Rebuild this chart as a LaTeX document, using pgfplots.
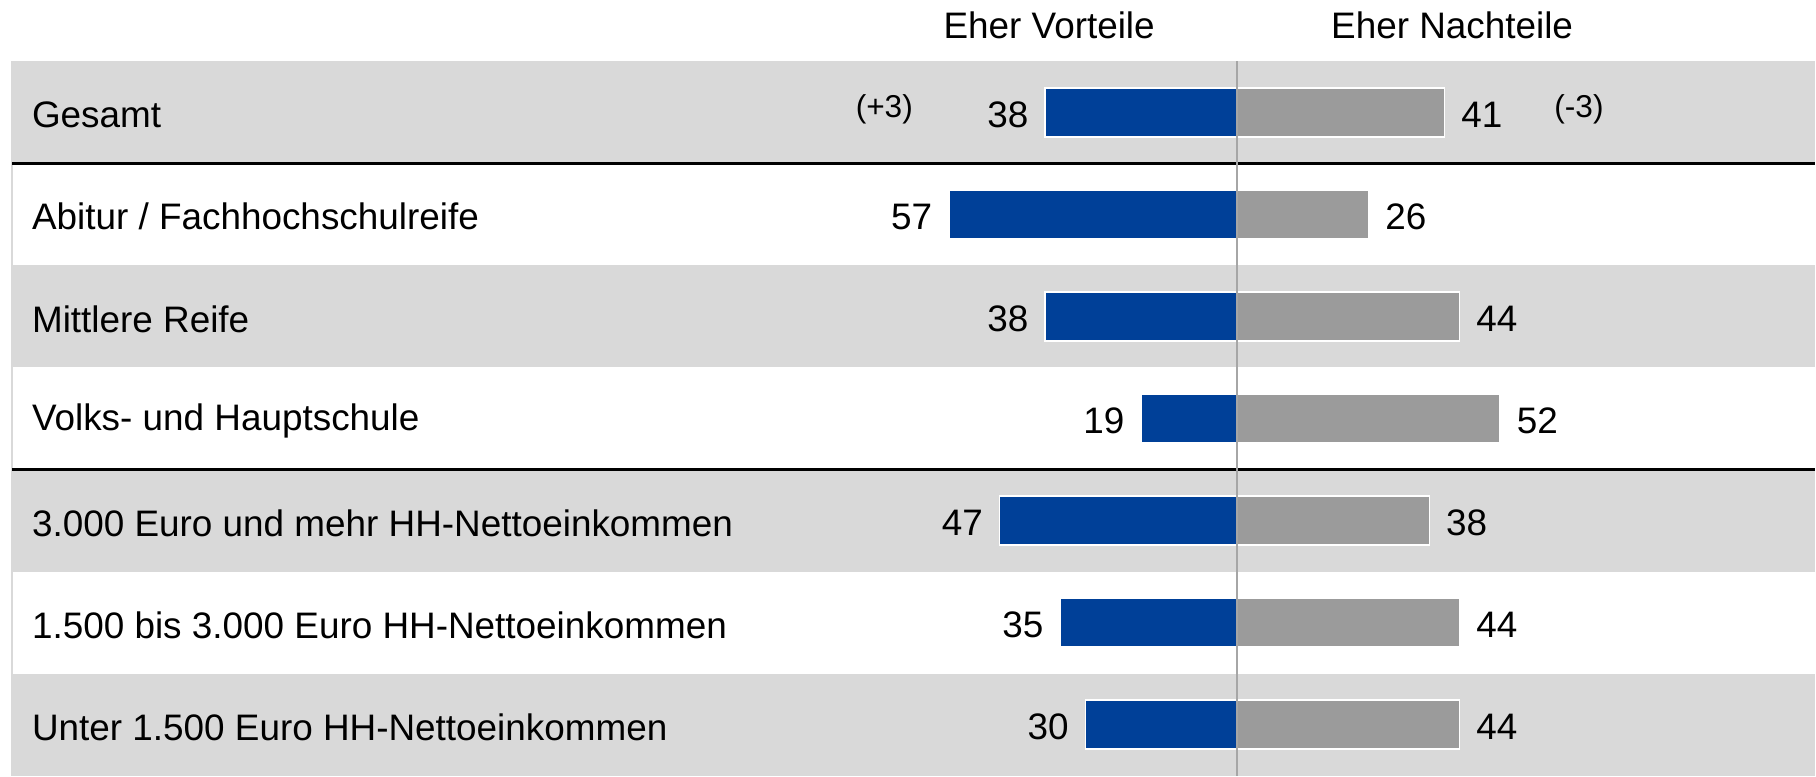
\documentclass[border=0pt]{standalone}
\usepackage{pgfplots}
\pgfplotsset{compat=1.18}
\usepackage{pgfplotstable}
\usepackage{fontspec}
\setmainfont{Liberation Sans}
\definecolor{barblue}{RGB}{0,64,152}
\definecolor{bargray}{RGB}{155,155,155}
\definecolor{band}{RGB}{217,217,217}
\definecolor{midline}{RGB}{166,166,166}

\pgfplotstableread{
y pro contra
0 38 41
1 57 26
2 38 44
3 19 52
4 47 38
5 35 44
6 30 44
}\data

\begin{document}
\begin{tikzpicture}
\begin{axis}[
 width=181.6mm, height=77.6mm, scale only axis,
 xmin=-244.7, xmax=114.2, ymin=-1.097, ymax=6.5, y dir=reverse,
 hide axis, clip=false,
 xbar, bar shift=0pt, bar width=0.48,
 /pgf/number format/assume math mode=true,
 font=\fontsize{10.5}{12.6}\selectfont,
]
\path (rel axis cs:0,0) rectangle (rel axis cs:1,1);
% row bands
\fill[band] (axis cs:-242.3,-0.5) rectangle (axis cs:114.2,0.5);
\fill[band] (axis cs:-242.3,1.5) rectangle (axis cs:114.2,2.5);
\fill[band] (axis cs:-242.3,3.5) rectangle (axis cs:114.2,4.5);
\fill[band] (axis cs:-242.3,5.5) rectangle (axis cs:114.2,6.5);
\draw[band, line width=0.4pt] (axis cs:-242.3,-0.5) -- (axis cs:-242.3,6.5);

\addplot[fill=barblue, draw=white, line width=0.45pt,
  point meta=\thisrow{pro},
  nodes near coords,
  nodes near coords style={anchor=east, inner sep=0pt, xshift=-1.6mm, yshift=-0.25mm, text=black, font=\fontsize{10.5}{12.6}\selectfont}]
  table[x expr=-\thisrow{pro}, y=y] {\data};
\addplot[fill=bargray, draw=white, line width=0.45pt,
  point meta=\thisrow{contra},
  nodes near coords,
  nodes near coords style={anchor=west, inner sep=0pt, xshift=1.6mm, yshift=-0.25mm, text=black, font=\fontsize{10.5}{12.6}\selectfont}]
  table[x=contra, y=y] {\data};

% separators
\draw[black, line width=0.8pt] (axis cs:-242.3,0.5) -- (axis cs:114.2,0.5);
\draw[black, line width=0.8pt] (axis cs:-242.3,3.5) -- (axis cs:114.2,3.5);
% center line
\draw[midline, line width=0.5pt] (axis cs:0,-0.5) -- (axis cs:0,6.5);

% headers
\node[font=\fontsize{10.5}{12.6}\selectfont] at (axis cs:-37.2,-0.852) {Eher Vorteile};
\node[font=\fontsize{10.5}{12.6}\selectfont] at (axis cs:42.5,-0.852) {Eher Nachteile};
% changes
\node[font=\fontsize{9}{10.8}\selectfont] at (axis cs:-69.8,-0.03) {(+3)};
\node[font=\fontsize{9}{10.8}\selectfont] at (axis cs:67.6,-0.03) {(-3)};

% category labels
\begin{scope}[every node/.style={anchor=west, inner sep=0pt, yshift=-0.25mm, font=\fontsize{10.5}{12.6}\selectfont}]
\node at (axis cs:-238.5,0) {Gesamt};
\node at (axis cs:-238.5,1) {Abitur / Fachhochschulreife};
\node at (axis cs:-238.5,2) {Mittlere Reife};
\node at (axis cs:-238.5,3) {Volks- und Hauptschule};
\node at (axis cs:-238.5,4) {3.000 Euro und mehr HH-Nettoeinkommen};
\node at (axis cs:-238.5,5) {1.500 bis 3.000 Euro HH-Nettoeinkommen};
\node at (axis cs:-238.5,6) {Unter 1.500 Euro HH-Nettoeinkommen};
\end{scope}
\end{axis}
\end{tikzpicture}
\end{document}
